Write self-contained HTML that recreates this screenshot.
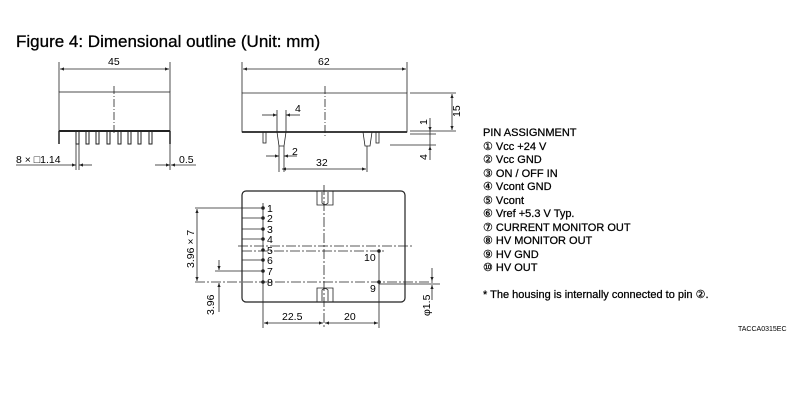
<!DOCTYPE html>
<html><head><meta charset="utf-8"><style>
body{margin:0;background:#fff;width:806px;height:400px;overflow:hidden}
svg{display:block}
text{font-family:"Liberation Sans",sans-serif;fill:#000}
</style></head><body>
<svg width="806" height="400" viewBox="0 0 806 400" xmlns="http://www.w3.org/2000/svg">
<defs>
<marker id="a" viewBox="0 0 10 10" refX="10" refY="5" markerWidth="6" markerHeight="5" orient="auto-start-reverse"><path d="M0,1 L10,5 L0,9z" fill="#222"/></marker>
</defs>
<text x="16" y="47" font-size="17" stroke="#000" stroke-width="0.3">Figure 4: Dimensional outline (Unit: mm)</text>
<g stroke="#222" stroke-width="0.8" fill="none">
<rect x="59" y="92" width="111" height="39"/>
<line x1="59" y1="131" x2="170" y2="131" stroke-width="2"/>
<line x1="59" y1="62" x2="59" y2="92"/><line x1="170" y1="62" x2="170" y2="92"/>
<line x1="60" y1="69" x2="169" y2="69" marker-start="url(#a)" marker-end="url(#a)"/>
<line x1="114" y1="86" x2="114" y2="135" stroke-dasharray="8,2,1,2"/>
<line x1="59" y1="131" x2="59" y2="144" stroke-width="1.5"/><line x1="170" y1="131" x2="170" y2="144" stroke-width="1.5"/>
<g stroke-width="1">
<rect x="76" y="131" width="3" height="13"/><rect x="86" y="131" width="3" height="13"/><rect x="96" y="131" width="3" height="13"/><rect x="107" y="131" width="3" height="13"/><rect x="118" y="131" width="3" height="13"/><rect x="128" y="131" width="3" height="13"/><rect x="138" y="131" width="3" height="13"/><rect x="149" y="131" width="3" height="13"/>
</g>
<line x1="76" y1="144" x2="76" y2="170"/><line x1="79" y1="144" x2="79" y2="170"/>
<line x1="16" y1="165" x2="76" y2="165" marker-end="url(#a)"/><line x1="92" y1="165" x2="79" y2="165" marker-end="url(#a)"/>
<line x1="170" y1="144" x2="170" y2="170"/>
<line x1="155" y1="165" x2="170" y2="165" marker-end="url(#a)"/><line x1="196" y1="165" x2="171" y2="165" marker-end="url(#a)"/>
<path d="M242,93 H407 V132 H372 L370,146 H365 L363,132 H286 L284,146 H279 L277,132 H242 Z"/>
<line x1="242" y1="132" x2="407" y2="132" stroke-width="1.8"/>
<rect x="263" y="132" width="3" height="11"/><rect x="376" y="132" width="3" height="11"/>
<line x1="242" y1="62" x2="242" y2="93"/><line x1="407" y1="62" x2="407" y2="93"/>
<line x1="243" y1="69" x2="406" y2="69" marker-start="url(#a)" marker-end="url(#a)"/>
<line x1="325" y1="86" x2="325" y2="138" stroke-dasharray="8,2,1,2"/>
<line x1="277" y1="110" x2="277" y2="132"/><line x1="286" y1="110" x2="286" y2="132"/>
<line x1="262" y1="115" x2="277" y2="115" marker-end="url(#a)"/><line x1="300" y1="115" x2="286" y2="115" marker-end="url(#a)"/>
<line x1="279" y1="146" x2="279" y2="172"/><line x1="284" y1="146" x2="284" y2="172"/>
<line x1="266" y1="156" x2="279" y2="156" marker-end="url(#a)"/><line x1="297" y1="156" x2="284" y2="156" marker-end="url(#a)"/>
<line x1="367" y1="146" x2="367" y2="172"/>
<line x1="282" y1="169" x2="366" y2="169" marker-start="url(#a)" marker-end="url(#a)"/>
<line x1="410" y1="93" x2="456" y2="93"/><line x1="410" y1="131" x2="456" y2="131"/>
<line x1="452" y1="94" x2="452" y2="130" marker-start="url(#a)" marker-end="url(#a)"/>
<line x1="410" y1="134" x2="436" y2="134"/><line x1="390" y1="145" x2="436" y2="145"/>
<line x1="430" y1="118" x2="430" y2="131" marker-end="url(#a)"/>
<line x1="430" y1="160" x2="430" y2="146" marker-end="url(#a)"/>
<line x1="430" y1="131" x2="430" y2="146"/>
<rect x="242" y="191" width="163" height="111" rx="4" stroke-width="1.2"/>
<path d="M317,191 V205 H333 V191"/><path d="M322,192 V203 Q325,206 328,203 V192"/>
<path d="M317,302 V288 H333 V302"/><path d="M322,301 V290 Q325,287 328,290 V301"/>
<line x1="324" y1="185" x2="324" y2="328" stroke-dasharray="10,2,2,2"/>
<line x1="238" y1="246" x2="412" y2="246" stroke-dasharray="10,2,2,2"/>
<line x1="242" y1="251" x2="386" y2="251" stroke-dasharray="10,2,2,2"/>
<line x1="195" y1="282" x2="435" y2="282" stroke-dasharray="10,2,2,2"/>
<line x1="263" y1="203" x2="263" y2="328"/>
<line x1="379" y1="251" x2="379" y2="328"/>
<line x1="195" y1="208" x2="263" y2="208"/>
<line x1="242" y1="218" x2="263" y2="218"/><line x1="242" y1="229" x2="263" y2="229"/><line x1="242" y1="239" x2="263" y2="239"/><line x1="242" y1="260" x2="263" y2="260"/>
<line x1="215" y1="271" x2="263" y2="271"/>
<line x1="197" y1="209" x2="197" y2="281" marker-start="url(#a)" marker-end="url(#a)"/>
<line x1="219" y1="260" x2="219" y2="270" marker-end="url(#a)"/>
<line x1="219" y1="312" x2="219" y2="283" marker-end="url(#a)"/>
<line x1="264" y1="323" x2="323" y2="323" marker-start="url(#a)" marker-end="url(#a)"/>
<line x1="325" y1="323" x2="378" y2="323" marker-start="url(#a)" marker-end="url(#a)"/>
<line x1="379" y1="284" x2="440" y2="284"/>
<line x1="432" y1="268" x2="432" y2="281" marker-end="url(#a)"/>
<line x1="432" y1="300" x2="432" y2="285" marker-end="url(#a)"/>
</g>
<g fill="#222">
<circle cx="263" cy="208" r="1.8"/><circle cx="263" cy="218" r="1.8"/><circle cx="263" cy="229" r="1.8"/><circle cx="263" cy="239" r="1.8"/><circle cx="263" cy="250" r="1.8"/><circle cx="263" cy="260" r="1.8"/><circle cx="263" cy="271" r="1.8"/><circle cx="263" cy="282" r="1.8"/>
<circle cx="379" cy="251" r="1.8"/><circle cx="379" cy="282" r="1.8"/>
</g>
<g font-size="10.5">
<text x="108" y="65">45</text>
<text x="16" y="163">8 × □1.14</text>
<text x="179" y="163">0.5</text>
<text x="318" y="65">62</text>
<text x="295" y="112">4</text>
<text x="292" y="155">2</text>
<text x="316" y="166">32</text>
<text transform="translate(460,117) rotate(-90)">15</text>
<text transform="translate(427,125) rotate(-90)">1</text>
<text transform="translate(427,160) rotate(-90)">4</text>
<text x="267" y="212">1</text><text x="267" y="222">2</text><text x="267" y="233">3</text><text x="267" y="243">4</text><text x="267" y="254">5</text><text x="267" y="264">6</text><text x="267" y="275">7</text><text x="267" y="286">8</text>
<text x="364" y="261">10</text><text x="370" y="292">9</text>
<text transform="translate(194,268) rotate(-90)">3.96 × 7</text>
<text transform="translate(214,315) rotate(-90)">3.96</text>
<text x="282" y="320">22.5</text><text x="344" y="320">20</text>
<text transform="translate(430,316) rotate(-90)">φ1.5</text>
</g>
<g font-size="11" stroke="#000" stroke-width="0.25">
<text x="483" y="136">PIN ASSIGNMENT</text>
<text x="483" y="150">① Vcc +24 V</text>
<text x="483" y="163">② Vcc GND</text>
<text x="483" y="177">③ ON / OFF IN</text>
<text x="483" y="190">④ Vcont GND</text>
<text x="483" y="204">⑤ Vcont</text>
<text x="483" y="217">⑥ Vref +5.3 V Typ.</text>
<text x="483" y="231">⑦ CURRENT MONITOR OUT</text>
<text x="483" y="244">⑧ HV MONITOR OUT</text>
<text x="483" y="258">⑨ HV GND</text>
<text x="483" y="271">⑩ HV OUT</text>
<text x="483" y="298">* The housing is internally connected to pin ②.</text>
</g>
<text x="738" y="331" font-size="7">TACCA0315EC</text>
</svg>
</body></html>
